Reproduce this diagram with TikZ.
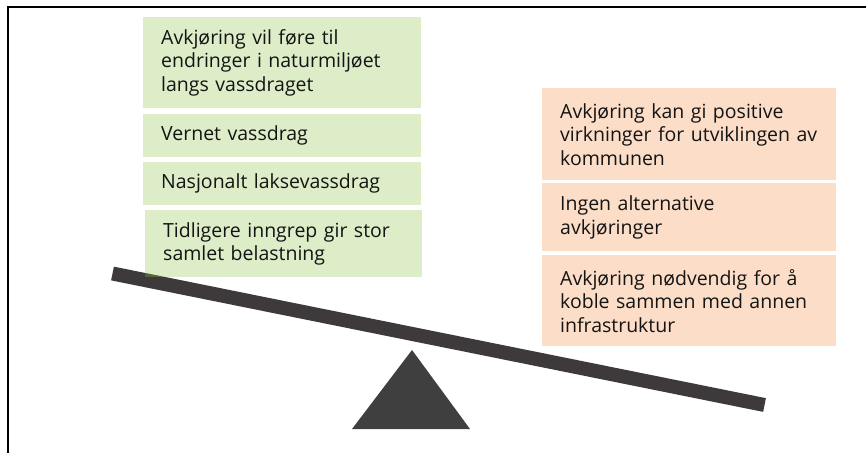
\documentclass[tikz,border=0pt]{standalone}
\usepackage{fontspec}
\setmainfont{Open Sans}
\definecolor{gfill}{RGB}{140,197,73}
\definecolor{ofill}{RGB}{252,222,200}
\definecolor{beamc}{RGB}{62,58,60}
\definecolor{tric}{RGB}{64,63,63}
\definecolor{txt}{RGB}{20,20,20}
\tikzset{
  box/.style={anchor=north west, inner xsep=18pt, inner ysep=0pt, align=left,
    font=\fontsize{19.5}{23.5}\selectfont, text=txt},
  gbox/.style={box, fill=gfill, fill opacity=0.3, text opacity=1},
  obox/.style={box, fill=ofill},
}
\begin{document}
\begin{tikzpicture}[x=1pt,y=-1pt]
\useasboundingbox (0,0) rectangle (866,453);
\draw[line width=2.2pt] (8,453) -- (8,7) -- (866,7);
\coordinate (bl) at (112.5,273.5);
\coordinate (br) at (764.5,405);
\draw[line width=14pt, beamc] (bl) -- (br);
\fill[tric] (412,350) -- (352,429) -- (470,429) -- cycle;
\node[gbox, minimum width=278pt, minimum height=91pt, text width=242pt] (g1) at (143,17) {Avkjøring vil føre til\\endringer i naturmiljøet\\langs vassdraget};
\node[gbox, minimum width=278pt, minimum height=43pt, text width=242pt] (g2) at (143,114) {Vernet vassdrag};
\node[gbox, minimum width=278pt, minimum height=43pt, text width=242pt] (g3) at (143,162) {Nasjonalt laksevassdrag};
\node[gbox, minimum width=277pt, minimum height=67pt, text width=241pt] (g4) at (145,210) {Tidligere inngrep gir stor\\samlet belastning};
\node[obox, minimum width=294pt, minimum height=92pt, text width=258pt] (o1) at (542,88) {Avkjøring kan gi positive\\virkninger for utviklingen av\\kommunen};
\node[obox, minimum width=294pt, minimum height=68pt, text width=258pt] (o2) at (542,183) {Ingen alternative\\avkjøringer};
\node[obox, minimum width=294pt, minimum height=91pt, text width=258pt] (o3) at (542,255) {Avkjøring nødvendig for å\\koble sammen med annen\\infrastruktur};
\end{tikzpicture}
\end{document}
